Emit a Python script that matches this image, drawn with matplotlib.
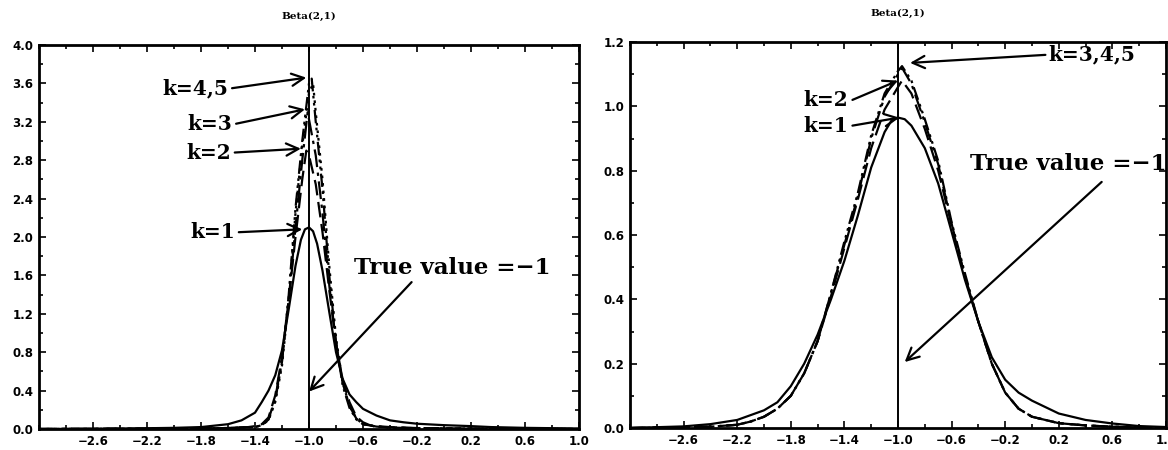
import matplotlib
matplotlib.use("Agg")
import matplotlib.pyplot as plt

# ---------------- data ----------------
title = "Beta(2,1)"
true_value = -1.0

# Left panel
L_k1_x = [-3.0, -2.6, -2.2, -2.0, -1.8, -1.6, -1.5, -1.4, -1.35, -1.3, -1.25, -1.2, -1.15, -1.1,
          -1.06, -1.03, -1.0, -0.97, -0.94, -0.9, -0.85, -0.8, -0.75, -0.7, -0.65, -0.6, -0.5,
          -0.4, -0.3, -0.2, 0.0, 0.2, 0.35, 0.6, 1.0]
L_k1_y = [0.0, 0.003, 0.008, 0.012, 0.02, 0.05, 0.09, 0.17, 0.28, 0.40, 0.56, 0.82, 1.25, 1.70,
          1.97, 2.08, 2.10, 2.06, 1.93, 1.65, 1.22, 0.80, 0.52, 0.36, 0.28, 0.21, 0.14,
          0.09, 0.07, 0.055, 0.04, 0.03, 0.02, 0.012, 0.005]

L_k2_x = [-3.0, -2.0, -1.6, -1.45, -1.4, -1.35, -1.3, -1.25, -1.2, -1.15, -1.1, -1.05, -1.02,
          -1.0, -0.95, -0.9, -0.85, -0.8, -0.75, -0.7, -0.65, -0.6, -0.55, -0.5, -0.4, -0.2,
          0.2, 1.0]
L_k2_y = [0.0, 0.003, 0.01, 0.02, 0.03, 0.05, 0.12, 0.35, 0.75, 1.35, 2.0, 2.6, 2.9,
          2.85, 2.55, 2.05, 1.45, 0.9, 0.5, 0.28, 0.13, 0.07, 0.04, 0.03, 0.02, 0.01,
          0.005, 0.0]

L_k3_x = [-3.0, -2.0, -1.6, -1.4, -1.35, -1.3, -1.25, -1.2, -1.15, -1.1, -1.05, -1.01, -0.95,
          -0.9, -0.85, -0.8, -0.75, -0.7, -0.65, -0.6, -0.5, -0.4, -0.2, 0.2, 1.0]
L_k3_y = [0.0, 0.003, 0.01, 0.02, 0.04, 0.10, 0.32, 0.72, 1.35, 2.1, 2.8, 3.3, 2.85,
          2.25, 1.5, 0.9, 0.48, 0.24, 0.11, 0.05, 0.025, 0.015, 0.008, 0.004, 0.0]

L_k4_x = [-3.0, -2.0, -1.6, -1.4, -1.35, -1.3, -1.25, -1.2, -1.15, -1.1, -1.05, -1.0, -0.98,
          -0.95, -0.9, -0.85, -0.8, -0.75, -0.7, -0.65, -0.6, -0.5, -0.4, -0.2, 0.2, 1.0]
L_k4_y = [0.0, 0.003, 0.01, 0.02, 0.04, 0.10, 0.30, 0.70, 1.40, 2.30, 3.0, 3.6, 3.65,
          3.2, 2.5, 1.6, 0.9, 0.45, 0.22, 0.10, 0.05, 0.025, 0.015, 0.008, 0.004, 0.0]

L_k5_x = [-3.0, -2.0, -1.6, -1.4, -1.35, -1.3, -1.25, -1.2, -1.15, -1.1, -1.05, -1.0, -0.97,
          -0.95, -0.9, -0.85, -0.8, -0.75, -0.7, -0.65, -0.6, -0.5, -0.4, -0.2, 0.2, 1.0]
L_k5_y = [0.0, 0.003, 0.01, 0.02, 0.04, 0.09, 0.28, 0.66, 1.35, 2.25, 2.95, 3.5, 3.6,
          3.3, 2.6, 1.7, 0.95, 0.48, 0.24, 0.11, 0.05, 0.025, 0.015, 0.008, 0.004, 0.0]

# Right panel
R_k1_x = [-3.0, -2.6, -2.4, -2.2, -2.0, -1.9, -1.8, -1.7, -1.6, -1.5, -1.4, -1.3, -1.2, -1.1,
          -1.05, -1.0, -0.95, -0.9, -0.8, -0.7, -0.6, -0.5, -0.4, -0.3, -0.2, -0.1, 0.0, 0.2,
          0.4, 0.6, 0.8, 1.0]
R_k1_y = [0.0, 0.005, 0.012, 0.025, 0.055, 0.08, 0.13, 0.2, 0.29, 0.40, 0.52, 0.66, 0.81, 0.92,
          0.955, 0.965, 0.96, 0.94, 0.87, 0.76, 0.61, 0.46, 0.33, 0.22, 0.15, 0.11, 0.085, 0.045,
          0.025, 0.014, 0.006, 0.003]

R_k2_x = [-3.0, -2.4, -2.2, -2.1, -2.0, -1.9, -1.8, -1.7, -1.6, -1.5, -1.4, -1.3, -1.2, -1.1,
          -1.0, -0.97, -0.9, -0.8, -0.7, -0.6, -0.5, -0.4, -0.3, -0.2, -0.1, 0.0, 0.2, 0.4,
          0.6, 1.0]
R_k2_y = [0.0, 0.004, 0.01, 0.02, 0.035, 0.06, 0.10, 0.17, 0.27, 0.41, 0.56, 0.71, 0.87, 0.99,
          1.06, 1.08, 1.04, 0.93, 0.80, 0.63, 0.47, 0.33, 0.20, 0.11, 0.06, 0.035, 0.015, 0.008,
          0.004, 0.0]

R_k3_x = [-3.0, -2.4, -2.2, -2.1, -2.0, -1.9, -1.8, -1.7, -1.6, -1.5, -1.4, -1.3, -1.2, -1.1,
          -1.0, -0.97, -0.9, -0.8, -0.7, -0.6, -0.5, -0.4, -0.3, -0.2, -0.1, 0.0, 0.2, 0.4,
          0.6, 1.0]
R_k3_y = [0.0, 0.004, 0.01, 0.02, 0.035, 0.06, 0.10, 0.17, 0.27, 0.42, 0.57, 0.72, 0.90, 1.03,
          1.10, 1.12, 1.07, 0.95, 0.82, 0.635, 0.47, 0.33, 0.20, 0.11, 0.06, 0.035, 0.015, 0.008,
          0.004, 0.0]

R_k4_y = [0.0, 0.004, 0.01, 0.02, 0.035, 0.06, 0.10, 0.17, 0.27, 0.42, 0.58, 0.73, 0.91, 1.04,
          1.11, 1.125, 1.08, 0.96, 0.83, 0.64, 0.48, 0.33, 0.20, 0.11, 0.06, 0.035, 0.015, 0.008,
          0.004, 0.0]

# ticks
L_xticks = [-2.6, -2.2, -1.8, -1.4, -1.0, -0.6, -0.2, 0.2, 0.6, 1.0]
L_xminor = [-3.0, -2.8, -2.4, -2.0, -1.6, -1.2, -0.8, -0.4, 0.0, 0.4, 0.8]
L_yticks = [0.0, 0.4, 0.8, 1.2, 1.6, 2.0, 2.4, 2.8, 3.2, 3.6, 4.0]
L_yminor = [0.2, 0.6, 1.0, 1.4, 1.8, 2.2, 2.6, 3.0, 3.4, 3.8]
R_yticks = [0.0, 0.2, 0.4, 0.6, 0.8, 1.0, 1.2]
R_yminor = [0.1, 0.3, 0.5, 0.7, 0.9, 1.1]

# annotations: (label, text x, text y, arrow head x, arrow head y)
L_labels = [("k=4,5", -1.57, 3.55, -1.02, 3.66),
            ("k=3", -1.54, 3.18, -1.03, 3.33),
            ("k=2", -1.55, 2.88, -1.06, 2.92),
            ("k=1", -1.52, 2.05, -1.05, 2.08)]
R_labels = [("k=2", -1.34, 1.02, -1.0, 1.08),
            ("k=1", -1.34, 0.94, -0.99, 0.965)]
R_label_right = ("k=3,4,5", 0.10, 1.16, -0.91, 1.135)

# ---------------- drawing ----------------
fig = plt.figure(figsize=(11.68, 4.5), dpi=100)
axL = fig.add_axes([39 / 1168, 21 / 450, 540 / 1168, 384 / 450])
axR = fig.add_axes([630 / 1168, 22 / 450, 536 / 1168, 386 / 450])

k_font = dict(family="DejaVu Serif", size=14.5, weight="bold")
tv_font = dict(family="DejaVu Serif", size=16.5, weight="bold")
tick_font = dict(family="DejaVu Sans", size=8.5, weight="bold")

styles = {
    "k1": dict(ls="-", lw=1.6),
    "k2": dict(ls=(0, (7, 3)), lw=1.6),
    "k3": dict(ls=(0, (8, 2.5, 1.5, 2.5)), lw=1.6),
    "k4": dict(ls=(0, (6, 2, 1.2, 2, 1.2, 2)), lw=1.6),
    "k5": dict(ls=(0, (1.2, 2.2)), lw=1.6),
}

def style_axes(ax, ymax, yticks, yminor, xticks, xminor):
    ax.set_xlim(-3.0, 1.0)
    ax.set_ylim(0.0, ymax)
    ax.set_xticks(xticks)
    ax.set_xticks(xminor, minor=True)
    ax.set_yticks(yticks)
    ax.set_yticks(yminor, minor=True)
    ax.set_xticklabels([f"{v:.1f}".replace("-", "\u2212") for v in xticks], fontdict=tick_font)
    ax.set_yticklabels([f"{v:.1f}" for v in yticks], fontdict=tick_font)
    ax.tick_params(which="both", direction="in", top=True, right=True, width=1.2)
    ax.tick_params(which="major", length=5, pad=4)
    ax.tick_params(which="minor", length=3)
    for s in ax.spines.values():
        s.set_linewidth(2.0)
    ax.set_title(title, fontsize=7.5, fontweight="bold", family="DejaVu Serif", pad=19)
    ax.axvline(true_value, color="black", lw=1.4)

# left panel
axL.plot(L_k1_x, L_k1_y, color="black", **styles["k1"])
axL.plot(L_k2_x, L_k2_y, color="black", **styles["k2"])
axL.plot(L_k3_x, L_k3_y, color="black", **styles["k3"])
axL.plot(L_k4_x, L_k4_y, color="black", **styles["k4"])
axL.plot(L_k5_x, L_k5_y, color="black", **styles["k5"])
style_axes(axL, 4.0, L_yticks, L_yminor, L_xticks, L_xminor)

arrow = dict(arrowstyle="->", color="black", lw=1.6, mutation_scale=22, shrinkA=0, shrinkB=0)
for lab, tx, ty, hx, hy in L_labels:
    axL.annotate("", xy=(hx, hy), xytext=(tx, ty), arrowprops=arrow)
    axL.text(tx - 0.03, ty, lab, ha="right", va="center", **k_font)

axL.text(-0.67, 1.68, "True value =\u22121", ha="left", va="center", **tv_font)
axL.annotate("", xy=(-1.0, 0.39), xytext=(-0.24, 1.53), arrowprops=arrow)

# right panel
axR.plot(R_k1_x, R_k1_y, color="black", **styles["k1"])
axR.plot(R_k2_x, R_k2_y, color="black", **styles["k2"])
axR.plot(R_k3_x, R_k3_y, color="black", **styles["k3"])
axR.plot(R_k3_x, R_k4_y, color="black", **styles["k4"])
style_axes(axR, 1.2, R_yticks, R_yminor, L_xticks, L_xminor)

for lab, tx, ty, hx, hy in R_labels:
    axR.annotate("", xy=(hx, hy), xytext=(tx, ty), arrowprops=arrow)
    axR.text(tx - 0.03, ty, lab, ha="right", va="center", **k_font)

lab, tx, ty, hx, hy = R_label_right
axR.annotate("", xy=(hx, hy), xytext=(tx, ty), arrowprops=arrow)
axR.text(tx + 0.02, ty, lab, ha="left", va="center", **k_font)

axR.text(-0.46, 0.82, "True value =\u22121", ha="left", va="center", **tv_font)
axR.annotate("", xy=(-0.95, 0.205), xytext=(0.52, 0.765), arrowprops=arrow)

fig.savefig("out.png", dpi=100)
